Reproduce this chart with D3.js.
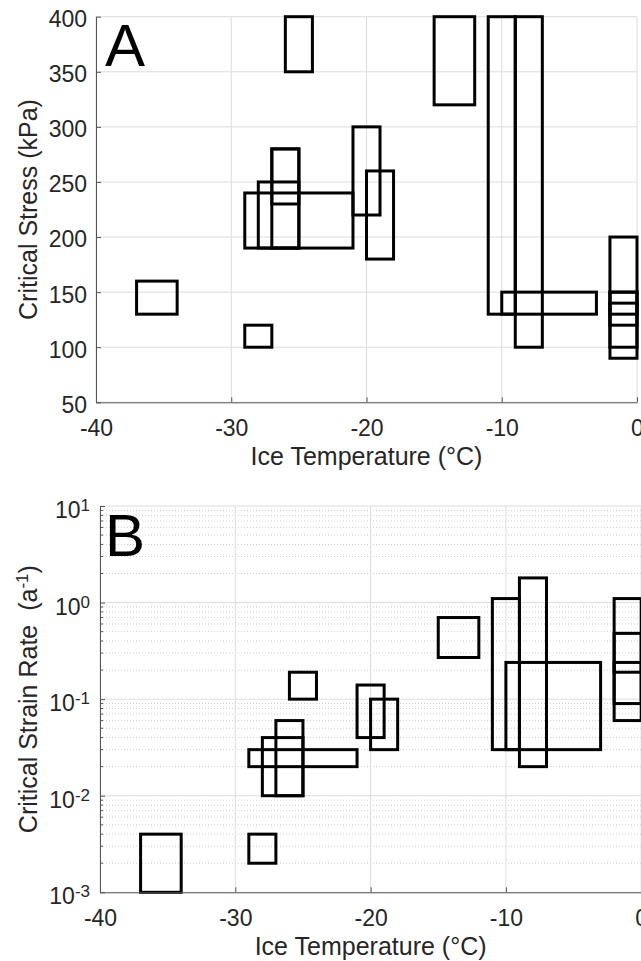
<!DOCTYPE html>
<html>
<head>
<meta charset="utf-8">
<script src="https://cdn.jsdelivr.net/npm/d3@7"></script>
<style>
  body { margin: 0; background: #fff; }
  svg  { display: block; font-family: "Liberation Sans", Arial, Helvetica, sans-serif; }
  .grid-line  { stroke: #dcdcdc; stroke-width: 1; }
  .minor-line { stroke: #cfcfcf; stroke-width: 1; stroke-dasharray: 1 2; }
  .box        { fill: none; stroke: #000; stroke-width: 3; }
  .axis path, .axis line { stroke: #555; stroke-width: 1; }
  .axis text  { font-size: 23px; fill: #262626; font-family: "Liberation Sans", Arial, sans-serif; }
  .axis-lbl   { font-size: 25px; fill: #262626; }
  .panel-lbl  { font-size: 60px; fill: #000; }
</style>
</head>
<body>
<svg id="fig" width="641" height="961"></svg>
<script>
// ── Data ─────────────────────────────────────────────────────────────────────
const tempTicks   = [-40, -30, -20, -10, 0];
const stressTicks = [50, 100, 150, 200, 250, 300, 350, 400];
const strainTicks = [1e-3, 1e-2, 1e-1, 1e0, 1e1];

// Panel A: ice temperature range (°C) × critical stress range (kPa)
const stressBoxes = [
  { t0: -37, t1: -34, lo: 130, hi: 160 },
  { t0: -29, t1: -27, lo: 100, hi: 120 },
  { t0: -29, t1: -21, lo: 190, hi: 240 },
  { t0: -28, t1: -25, lo: 190, hi: 250 },
  { t0: -27, t1: -25, lo: 190, hi: 280 },
  { t0: -27, t1: -25, lo: 230, hi: 280 },
  { t0: -26, t1: -24, lo: 350, hi: 400 },
  { t0: -21, t1: -19, lo: 220, hi: 300 },
  { t0: -20, t1: -18, lo: 180, hi: 260 },
  { t0: -15, t1: -12, lo: 320, hi: 400 },
  { t0: -11, t1:  -9, lo: 130, hi: 400 },
  { t0:  -9, t1:  -7, lo: 100, hi: 400 },
  { t0: -10, t1:  -3, lo: 130, hi: 150 },
  { t0:  -2, t1:   0, lo:  90, hi: 200 },
  { t0:  -2, t1:   0, lo: 100, hi: 150 },
  { t0:  -2, t1:   0, lo: 120, hi: 140 },
  { t0:  -2, t1:   0, lo: 130, hi: 150 },
];

// Panel B: ice temperature range (°C) × critical strain rate range (a^-1)
const strainBoxes = [
  { t0: -37, t1: -34, lo: 0.001, hi: 0.004 },
  { t0: -29, t1: -27, lo: 0.002, hi: 0.004 },
  { t0: -29, t1: -21, lo: 0.02,  hi: 0.03  },
  { t0: -28, t1: -25, lo: 0.01,  hi: 0.04  },
  { t0: -27, t1: -25, lo: 0.01,  hi: 0.06  },
  { t0: -26, t1: -24, lo: 0.1,   hi: 0.19  },
  { t0: -21, t1: -19, lo: 0.04,  hi: 0.14  },
  { t0: -20, t1: -18, lo: 0.03,  hi: 0.1   },
  { t0: -15, t1: -12, lo: 0.27,  hi: 0.7   },
  { t0: -11, t1:  -9, lo: 0.03,  hi: 1.1   },
  { t0:  -9, t1:  -7, lo: 0.02,  hi: 1.8   },
  { t0: -10, t1:  -3, lo: 0.03,  hi: 0.24  },
  { t0:  -2, t1:   0, lo: 0.06,  hi: 1.1   },
  { t0:  -2, t1:   0, lo: 0.09,  hi: 0.48  },
  { t0:  -2, t1:   0, lo: 0.19,  hi: 0.24  },
];

const svg = d3.select("#fig");
const fmtTemp = d => String(d);   // plain hyphen, as in the original figure

// ── Panel drawing ────────────────────────────────────────────────────────────
function drawPanel(P) {
  const g = svg.append("g").attr("transform", `translate(${P.left},${P.top})`);
  const x = d3.scaleLinear().domain([-40, 0]).range([0, P.W]);
  const y = P.y;

  // minor grid (log panel only)
  if (P.minor) {
    g.append("g").selectAll("line")
      .data(P.minor)
      .join("line").attr("class", "minor-line")
      .attr("x1", 0).attr("x2", P.W)
      .attr("y1", d => y(d)).attr("y2", d => y(d));
  }

  // major grid
  g.append("g").selectAll("line")
    .data(P.yTicks)
    .join("line").attr("class", "grid-line")
    .attr("x1", 0).attr("x2", P.W)
    .attr("y1", d => y(d)).attr("y2", d => y(d));
  g.append("g").selectAll("line")
    .data(tempTicks)
    .join("line").attr("class", "grid-line")
    .attr("x1", d => x(d)).attr("x2", d => x(d))
    .attr("y1", 0).attr("y2", P.H);

  // boxes
  g.append("g").selectAll("rect")
    .data(P.boxes)
    .join("rect").attr("class", "box")
    .attr("x", d => x(d.t0))
    .attr("y", d => y(d.hi))
    .attr("width",  d => x(d.t1) - x(d.t0))
    .attr("height", d => y(d.lo) - y(d.hi));

  // axes (ticks point inward, MATLAB style)
  g.append("g").attr("class", "axis")
    .attr("transform", `translate(0,${P.H})`)
    .call(d3.axisBottom(x).tickValues(tempTicks).tickFormat(fmtTemp)
      .tickSizeInner(-5).tickSizeOuter(0).tickPadding(17));

  const gy = g.append("g").attr("class", "axis")
    .call(d3.axisLeft(y).tickValues(P.yTicks).tickSizeInner(-5).tickSizeOuter(0).tickPadding(9));

  if (P.log) {
    gy.selectAll(".tick text").each(function (d) {
      const t = d3.select(this).text(null).attr("dy", null).attr("y", 11.6).attr("x", -10);
      t.append("tspan").text("10");
      t.append("tspan").attr("font-size", 17).attr("dy", -7)
        .text(Math.round(Math.log10(d)));
    });
    gy.append("g").selectAll("line")
      .data(P.minor)
      .join("line")
      .attr("x1", 0).attr("x2", 3)
      .attr("y1", d => y(d)).attr("y2", d => y(d));
  } else {
    gy.selectAll(".tick text").attr("dy", "0.43em");
  }

  // axis labels
  svg.append("text").attr("class", "axis-lbl")
    .attr("x", P.left + P.W / 2).attr("y", P.top + P.H + 62.5)
    .attr("text-anchor", "middle").text("Ice Temperature (°C)");

  const yl = svg.append("text").attr("class", "axis-lbl")
    .attr("transform", "rotate(-90)")
    .attr("x", -(P.top + P.H / 2)).attr("y", 37)
    .attr("text-anchor", "middle")
    .style("white-space", "pre");
  P.yLabel(yl);

  // panel letter
  svg.append("text").attr("class", "panel-lbl")
    .attr("x", P.letterX).attr("y", P.letterY).text(P.letter);
}

// ── Panel A: critical stress ─────────────────────────────────────────────────
drawPanel({
  left: 96, top: 16.7, W: 541, H: 385.6,
  y: d3.scaleLinear().domain([50, 400]).range([385.6, 0]),
  yTicks: stressTicks,
  boxes: stressBoxes,
  log: false,
  yLabel: t => t.text("Critical Stress (kPa)"),
  letter: "A", letterX: 105, letterY: 66,
});

// ── Panel B: critical strain rate (log) ──────────────────────────────────────
const strainMinor = [];
strainTicks.slice(0, -1).forEach(dec => {
  for (let k = 2; k <= 9; k++) strainMinor.push(dec * k);
});

drawPanel({
  left: 100, top: 506, W: 541.2, H: 386.3,
  y: d3.scaleLog().domain([1e-3, 1e1]).range([386.3, 0]),
  yTicks: strainTicks,
  minor: strainMinor,
  boxes: strainBoxes,
  log: true,
  yLabel: t => {
    t.append("tspan").text("Critical Strain Rate  (a");
    t.append("tspan").attr("font-size", 17).attr("dy", -9).text("-1");
    t.append("tspan").attr("dy", 9).text(")");
  },
  letter: "B", letterX: 105, letterY: 556,
});
</script>
</body>
</html>
